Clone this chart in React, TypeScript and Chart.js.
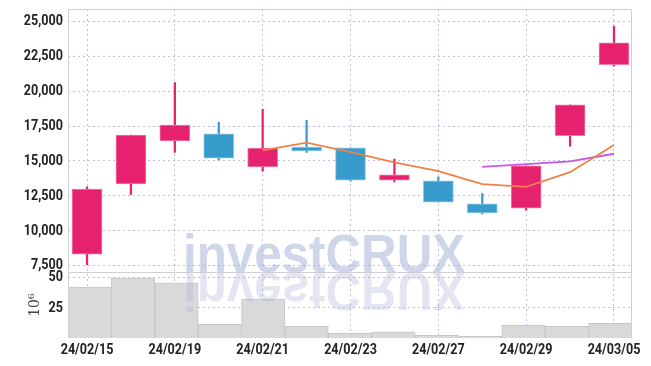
import React, { useEffect, useRef } from 'react';
import { Chart, registerables } from 'chart.js';

Chart.register(...registerables);

const dates = ['24/02/15', '24/02/16', '24/02/19', '24/02/20', '24/02/21', '24/02/22', '24/02/23', '24/02/26', '24/02/27', '24/02/28', '24/02/29', '24/03/04', '24/03/05'];
const opens = [8330, 13360, 16430, 16950, 14580, 16000, 15950, 13630, 13580, 11930, 11620, 16810, 21910];
const highs = [13150, 16860, 20620, 17770, 18710, 17920, 15950, 15140, 13870, 12670, 14660, 19020, 24640];
const lows = [7570, 12600, 15620, 15070, 14270, 15620, 13560, 13510, 12050, 11210, 11470, 16070, 21800];
const closes = [12980, 16860, 17580, 15210, 15930, 15730, 13630, 14010, 12050, 11280, 14660, 19020, 23470];
const ma5 = [null, null, null, null, 15760, 16310, 15640, 14900, 14270, 13340, 13150, 14200, 16140];
const ma10 = [null, null, null, null, null, null, null, null, null, 14580, 14780, 14970, 15520];
const volumes = [42.2, 49.7, 45.6, 11.4, 32.2, 9.7, 3.9, 5.0, 2.2, 1.4, 10.6, 9.7, 12.2];
const priceTicks = [7500, 10000, 12500, 15000, 17500, 20000, 22500, 25000];
const volumeTicks = [25, 50];
const dateTickIdx = [0, 2, 4, 6, 8, 10, 12];

const UP = '#e6226e';
const UP_EDGE = '#f27ba7';
const DOWN = '#379bcb';
const DOWN_EDGE = '#8ec6e3';
const GRID = 'rgba(165,170,210,0.75)';
const LABEL_FONT = 'bold 15px Roboto, "DejaVu Sans", sans-serif';
const LABEL_SQUEEZE = 0.84;
const HIDDEN = 'rgba(0,0,0,0)';
const WATERMARK = 'investCRUX';

const fmtPrice = (v: number) => Number(v).toLocaleString('en-US');
const fmtDate = (v: number) => dates[v] ?? '';

function squeezedText(ctx: any, text: string, x: number, y: number, align: string, baseline: string) {
  ctx.save();
  ctx.translate(x, y);
  ctx.scale(LABEL_SQUEEZE, 1);
  ctx.textAlign = align;
  ctx.textBaseline = baseline;
  ctx.fillText(text, 0, 0);
  ctx.restore();
}

const framePlugin = {
  id: 'frame',
  afterDatasetsDraw(chart: any) {
    const { ctx, chartArea } = chart;
    const yv = chart.scales.yv;
    const baseline = yv.top;
    const x0 = chartArea.left + (chartArea.right - chartArea.left) * 0.204;
    const drawMark = () => {
      ctx.save();
      ctx.translate(x0, baseline);
      ctx.scale(0.93, 1);
      ctx.font = 'bold 53px "Liberation Sans", Arial, sans-serif';
      ctx.textBaseline = 'alphabetic';
      ctx.textAlign = 'left';
      ctx.fillText(WATERMARK, 0, 0);
      ctx.restore();
    };
    ctx.save();
    ctx.fillStyle = 'rgba(161,173,213,0.5)';
    drawMark();
    ctx.translate(0, baseline * 2 + 1);
    ctx.scale(1, -1);
    ctx.fillStyle = 'rgba(161,173,213,0.3)';
    drawMark();
    ctx.restore();
  },
  afterDraw(chart: any) {
    const { ctx, chartArea } = chart;
    const { y, yv, xc } = chart.scales;
    ctx.save();
    ctx.strokeStyle = '#cfcfd4';
    ctx.lineWidth = 1;
    ctx.beginPath();
    ctx.moveTo(chartArea.left + 0.5, chartArea.bottom);
    ctx.lineTo(chartArea.left + 0.5, chartArea.top + 0.5);
    ctx.lineTo(chartArea.right - 0.5, chartArea.top + 0.5);
    ctx.lineTo(chartArea.right - 0.5, chartArea.bottom);
    ctx.moveTo(chartArea.left, Math.round(yv.top) + 0.5);
    ctx.lineTo(chartArea.right, Math.round(yv.top) + 0.5);
    ctx.stroke();

    ctx.font = LABEL_FONT;
    ctx.fillStyle = '#222';
    for (const t of y.ticks) {
      squeezedText(ctx, fmtPrice(t.value), y.right - 5, y.getPixelForValue(t.value), 'right', 'middle');
    }
    for (const t of yv.ticks) {
      squeezedText(ctx, String(t.value), yv.right - 5, yv.getPixelForValue(t.value), 'right', 'middle');
    }
    for (const t of xc.ticks) {
      squeezedText(ctx, fmtDate(t.value), xc.getPixelForValue(t.value), xc.top + 5, 'center', 'top');
    }
    ctx.restore();
  },
};

const noPadV = (w: number) => (s: any) => {
  s.width = w;
  s.paddingTop = 0;
  s.paddingBottom = 0;
};

export default function App() {
  const ref = useRef<HTMLCanvasElement | null>(null);

  useEffect(() => {
    document.body.style.margin = '0';
    document.body.style.overflow = 'hidden';
    const canvas = ref.current;
    if (!canvas) return;
    const up = closes.map((c, i) => c >= opens[i]);
    const chart = new Chart(canvas, {
      data: {
        labels: dates,
        datasets: [
          {
            type: 'line',
            label: 'MA5',
            data: ma5.map((v, i) => ({ x: i, y: v })),
            xAxisID: 'xc',
            yAxisID: 'y',
            borderColor: '#ef8148',
            borderWidth: 1.8,
            pointRadius: 0,
            order: 1,
          },
          {
            type: 'line',
            label: 'MA10',
            data: ma10.map((v, i) => ({ x: i, y: v })),
            xAxisID: 'xc',
            yAxisID: 'y',
            borderColor: '#c656e6',
            borderWidth: 1.8,
            pointRadius: 0,
            order: 1,
          },
          {
            type: 'bar',
            label: 'body',
            data: opens.map((o, i) => ({ x: i, y: [o, closes[i]] })),
            xAxisID: 'xc',
            yAxisID: 'y',
            backgroundColor: up.map((u) => (u ? UP : DOWN)),
            borderColor: up.map((u) => (u ? UP_EDGE : DOWN_EDGE)),
            borderWidth: 1,
            borderSkipped: false,
            barThickness: 30,
            grouped: false,
            order: 3,
          },
          {
            type: 'bar',
            label: 'wick',
            data: lows.map((l, i) => ({ x: i, y: [l, highs[i]] })),
            xAxisID: 'xc',
            yAxisID: 'y',
            backgroundColor: up.map((u) => (u ? UP : DOWN)),
            barThickness: 1.6,
            grouped: false,
            order: 4,
          },
          {
            type: 'bar',
            label: 'volume',
            data: volumes,
            xAxisID: 'x',
            yAxisID: 'yv',
            backgroundColor: '#d9d9dc',
            borderColor: '#c6c6cb',
            borderWidth: 1,
            barPercentage: 1,
            categoryPercentage: 1,
            grouped: false,
            order: 5,
          },
        ] as any,
      },
      options: {
        animation: false,
        responsive: true,
        maintainAspectRatio: false,
        layout: { padding: { left: 0, top: 9, right: 19, bottom: 0 } },
        plugins: { legend: { display: false }, tooltip: { enabled: false } },
        scales: {
          x: {
            type: 'category',
            display: false,
            offset: true,
          },
          xc: {
            type: 'linear',
            position: 'bottom',
            offset: false,
            min: -0.433,
            max: 12.41,
            afterBuildTicks: (s: any) => {
              s.ticks = dateTickIdx.map((v) => ({ value: v }));
            },
            afterFit: (s: any) => {
              s.height = 28;
              s.paddingLeft = 0;
              s.paddingRight = 0;
            },
            ticks: {
              autoSkip: false,
              maxRotation: 0,
              padding: 4,
              color: HIDDEN,
              font: { size: 14 },
              callback: (v: any) => fmtDate(v),
            },
            grid: { color: GRID, drawTicks: false, lineWidth: 1, offset: false },
            border: { display: false, dash: [2, 3] },
          },
          yv: {
            type: 'linear',
            position: 'left',
            stack: 'panels',
            stackWeight: 1,
            offset: false,
            min: 0,
            max: 54.4,
            afterBuildTicks: (s: any) => {
              s.ticks = volumeTicks.map((v) => ({ value: v }));
            },
            afterFit: noPadV(68),
            title: {
              display: true,
              text: '10⁶',
              color: '#444',
              font: { family: '"DejaVu Serif", serif', size: 14 },
              padding: { top: 27, bottom: 0 },
            },
            ticks: {
              autoSkip: false,
              padding: 5,
              color: HIDDEN,
              font: { size: 14 },
            },
            grid: { color: GRID, drawTicks: false, offset: false },
            border: { display: false, dash: [2, 3] },
          },
          y: {
            type: 'linear',
            position: 'left',
            stack: 'panels',
            stackWeight: 4,
            offset: false,
            min: 7033,
            max: 25890,
            afterBuildTicks: (s: any) => {
              s.ticks = priceTicks.map((v) => ({ value: v }));
            },
            afterFit: noPadV(68),
            ticks: {
              autoSkip: false,
              padding: 5,
              color: HIDDEN,
              font: { size: 14 },
              callback: (v: any) => fmtPrice(v),
            },
            grid: { color: GRID, drawTicks: false, offset: false },
            border: { display: false, dash: [2, 3] },
          },
        },
      } as any,
      plugins: [framePlugin],
    });
    return () => chart.destroy();
  }, []);

  return (
    <div style={{ width: 651, height: 366, position: 'relative' }}>
      <canvas ref={ref} />
    </div>
  );
}
